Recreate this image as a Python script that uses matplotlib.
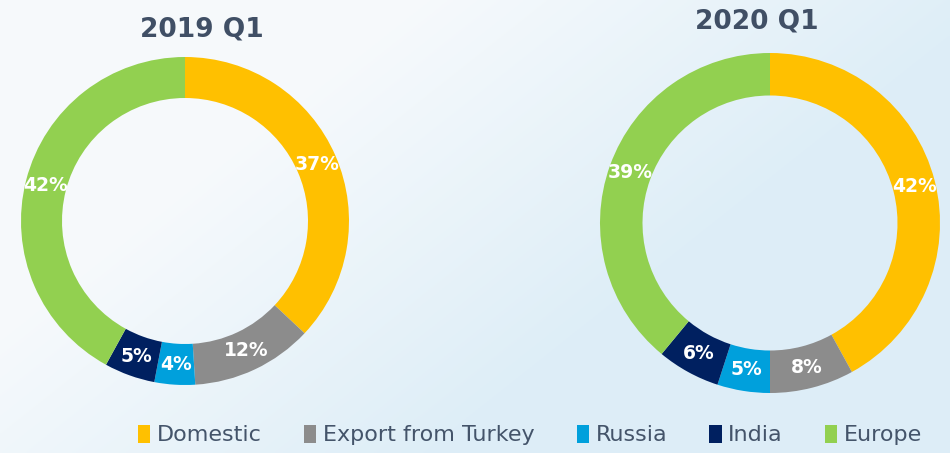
import matplotlib
matplotlib.use("Agg")
import matplotlib.pyplot as plt
import numpy as np
from matplotlib.patches import Patch

# Data
categories = ["Domestic", "Export from Turkey", "Russia", "India", "Europe"]
colors = ["#FFC000", "#8C8C8C", "#00A0DC", "#002060", "#92D050"]
share_2019 = [37, 12, 4, 5, 42]
share_2020 = [42, 8, 5, 6, 39]
titles = ["2019 Q1", "2020 Q1"]

W, H = 950, 453
fig = plt.figure(figsize=(W / 100, H / 100), dpi=100)

# light bluish background with a diagonal sweep
bg = fig.add_axes([0, 0, 1, 1], zorder=-5)
yy, xx = np.mgrid[0:1:200j, 0:1:400j]
t = np.clip((xx * 1.0 + yy * 0.6 - 0.45) / 0.6, 0, 1)
c0 = np.array([0.965, 0.978, 0.988])
c1 = np.array([0.870, 0.933, 0.970])
img = c0 + (c1 - c0) * t[..., None]
bg.imshow(img, aspect="auto", extent=[0, 1, 0, 1], origin="upper")
bg.axis("off")


def donut(cx, cy, r, values, title, tx, ty):
    ax = fig.add_axes([(cx - r) / W, (H - cy - r) / H, 2 * r / W, 2 * r / H])
    ax.pie(values, colors=colors, startangle=90, counterclock=False,
           wedgeprops=dict(width=0.25, linewidth=0),
           autopct=lambda p: f"{p:.0f}%", pctdistance=0.875,
           textprops=dict(color="white", fontsize=13.5, fontweight="bold"))
    ax.set_xlim(-1, 1)
    ax.set_ylim(-1, 1)
    ax.set_aspect("equal")
    ax.axis("off")
    fig.text(tx / W, 1 - ty / H, title, ha="center", va="center",
             fontsize=19, fontweight="bold", color="#404F65")


donut(185, 221, 164, share_2019, titles[0], 202, 30)
donut(770, 223, 170, share_2020, titles[1], 757, 22)

handles = [Patch(facecolor=c, edgecolor="none") for c in colors]
fig.legend(handles, categories, loc="center", bbox_to_anchor=(530 / W, 1 - 435 / H),
           ncol=5, frameon=False, fontsize=16, handlelength=0.55, handleheight=0.9,
           handletextpad=0.3, columnspacing=1.9, labelcolor="#44546A")

fig.savefig("out.png", dpi=100)
